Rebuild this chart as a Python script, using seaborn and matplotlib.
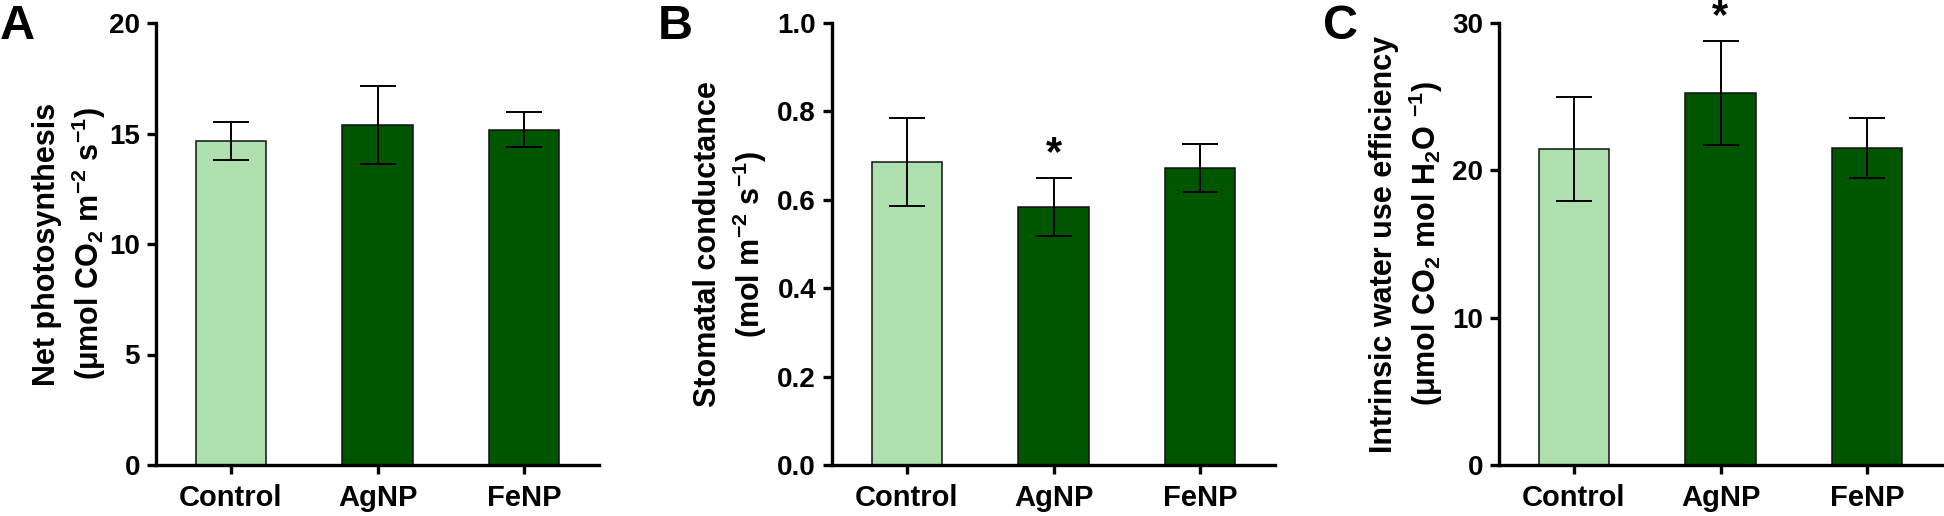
import numpy as np
import pandas as pd
import matplotlib
matplotlib.use('Agg')
import matplotlib.pyplot as plt
import seaborn as sns

# groups and colours
groups = ['Control', 'AgNP', 'FeNP']
bar_colors = ['#AEE0AE', '#005500', '#005500']

# panel A - net photosynthesis
photo_mean = [14.65, 15.38, 15.18]
photo_sd = [0.87, 1.78, 0.78]

# panel B - stomatal conductance
gs_mean = [0.686, 0.583, 0.672]
gs_sd = [0.100, 0.066, 0.054]

# panel C - intrinsic water use efficiency
wue_mean = [21.45, 25.25, 21.52]
wue_sd = [3.50, 3.55, 2.02]

# significance marks
photo_sig = ['', '', '']
gs_sig = ['', '*', '']
wue_sig = ['', '*', '']

sns.set_theme(style='ticks')
plt.rcParams['font.family'] = ['Liberation Sans', 'DejaVu Sans']
plt.rcParams['font.weight'] = 'bold'
plt.rcParams['text.color'] = 'black'
plt.rcParams['axes.edgecolor'] = 'black'
plt.rcParams['xtick.color'] = 'black'
plt.rcParams['ytick.color'] = 'black'
plt.rcParams['mathtext.fontset'] = 'custom'
plt.rcParams['mathtext.rm'] = 'Liberation Sans:bold'
plt.rcParams['mathtext.it'] = 'Liberation Sans:bold'
plt.rcParams['mathtext.bf'] = 'Liberation Sans:bold'
plt.rcParams['mathtext.default'] = 'rm'

W, H = 1944, 516
fig = plt.figure(figsize=(W / 100, H / 100), dpi=100)

panels = [
    dict(letter='A', mean=photo_mean, sd=photo_sd, sig=photo_sig,
         ylim=(0, 20), yticks=[0, 5, 10, 15, 20], fmt='{:.0f}',
         label='Net photosynthesis\n(μmol CO$_2$ m$^{-2}$ s$^{-1}$)',
         left=156, lab_x=70, let_x=0),
    dict(letter='B', mean=gs_mean, sd=gs_sd, sig=gs_sig,
         ylim=(0, 1.0), yticks=[0, 0.2, 0.4, 0.6, 0.8, 1.0], fmt='{:.1f}',
         label='Stomatal conductance\n(mol m$^{-2}$ s$^{-1}$)',
         left=832, lab_x=731, let_x=658),
    dict(letter='C', mean=wue_mean, sd=wue_sd, sig=wue_sig,
         ylim=(0, 30), yticks=[0, 10, 20, 30], fmt='{:.0f}',
         label='Intrinsic water use efficiency\n(μmol CO$_2$ mol H$_2$O $^{-1}$)',
         left=1499, lab_x=1407, let_x=1323),
]

ax_top, ax_bot, ax_w = 23, 465, 443

for p in panels:
    ax = fig.add_axes([p['left'] / W, (H - ax_bot) / H, ax_w / W, (ax_bot - ax_top) / H])
    df = pd.DataFrame({'group': groups, 'value': p['mean']})
    sns.barplot(data=df, x='group', y='value', hue='group', palette=bar_colors,
                legend=False, width=0.48, edgecolor='#111111', linewidth=1.1,
                errorbar=None, ax=ax, saturation=1)
    ax.errorbar(np.arange(len(groups)), p['mean'], yerr=p['sd'], fmt='none',
                ecolor='black', elinewidth=1.4, capsize=13, capthick=1.4, zorder=5)
    for i, s in enumerate(p['sig']):
        if s:
            ax.annotate(s, xy=(i, p['mean'][i] + p['sd'][i]), xytext=(0, 17),
                        textcoords='offset points', ha='center', va='center',
                        fontsize=30, fontweight='bold', annotation_clip=False)
    ax.set_xlim(-0.51, 2.51)
    ax.set_ylim(*p['ylim'])
    ax.set_yticks(p['yticks'])
    ax.set_yticklabels([p['fmt'].format(t) for t in p['yticks']])
    ax.set_xlabel('')
    ax.set_ylabel('')
    sns.despine(ax=ax)
    for sp in ['left', 'bottom']:
        ax.spines[sp].set_linewidth(2.4)
    ax.tick_params(axis='y', length=6.5, width=2.4, pad=5, labelsize=20)
    ax.tick_params(axis='x', length=6.5, width=2.4, pad=7, labelsize=21)
    for t in ax.get_xticklabels() + ax.get_yticklabels():
        t.set_fontweight('bold')
    fig.text(p['lab_x'] / W, 1 - 244 / H, p['label'], rotation=90, ha='center', va='center',
             fontsize=22, fontweight='bold', multialignment='center', linespacing=1.25)
    fig.text(p['let_x'] / W, 1 - 4 / H, p['letter'], ha='left', va='top',
             fontsize=35, fontweight='bold')

fig.savefig('out.png', dpi=100)
